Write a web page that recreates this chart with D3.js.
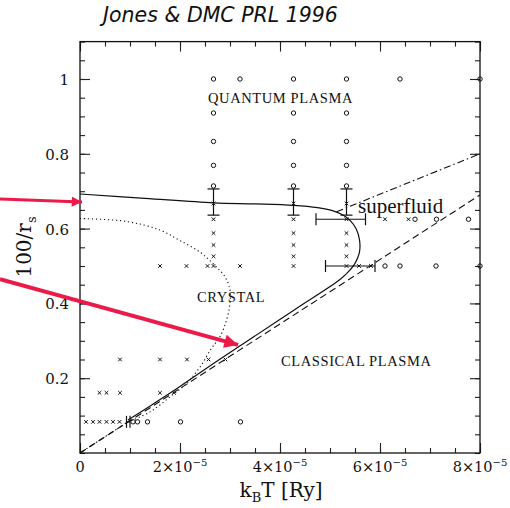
<!DOCTYPE html>
<html>
<head>
<meta charset="utf-8">
<script src="https://cdn.jsdelivr.net/npm/d3@7"></script>
<style>
  body { margin: 0; background: #fff; }
  text { fill: #111; }
</style>
</head>
<body>
<script>
const width = 510;
const height = 508;

// temperatures in Ry, density as 100/rs
const openPoints = [
  [2.67e-5, 1], [3.2e-5, 1], [4.27e-5, 1], [5.33e-5, 1], [6.4e-5, 1], [8.0e-5, 1],
  [2.67e-5, 0.909], [4.27e-5, 0.909], [5.33e-5, 0.909],
  [2.67e-5, 0.833], [4.27e-5, 0.833], [5.33e-5, 0.833],
  [2.67e-5, 0.769], [4.27e-5, 0.769], [5.33e-5, 0.769],
  [2.67e-5, 0.714], [4.27e-5, 0.714], [5.33e-5, 0.714],
  [6.7e-5, 0.625], [7.13e-5, 0.625], [7.77e-5, 0.625],
  [6.1e-5, 0.5], [6.4e-5, 0.5], [7.12e-5, 0.5], [8.0e-5, 0.5],
  [1.06e-5, 0.0833], [1.15e-5, 0.0833], [1.35e-5, 0.0833], [2.01e-5, 0.0833], [3.21e-5, 0.0833]
];

const crossPoints = [
  [2.67e-5, 0.667], [4.27e-5, 0.667], [5.33e-5, 0.667],
  [2.67e-5, 0.625], [4.27e-5, 0.625], [5.33e-5, 0.625], [6.1e-5, 0.625], [6.57e-5, 0.625],
  [2.67e-5, 0.588], [4.27e-5, 0.588], [5.33e-5, 0.588],
  [2.67e-5, 0.556], [4.27e-5, 0.556], [5.33e-5, 0.556],
  [2.67e-5, 0.526], [4.27e-5, 0.526], [5.33e-5, 0.526],
  [1.6e-5, 0.5], [2.13e-5, 0.5], [2.55e-5, 0.5], [2.67e-5, 0.5], [3.2e-5, 0.5],
  [4.27e-5, 0.5], [5.33e-5, 0.5], [5.58e-5, 0.5], [5.82e-5, 0.5],
  [0.8e-5, 0.25], [1.6e-5, 0.25], [2.14e-5, 0.25], [2.57e-5, 0.25], [2.91e-5, 0.25],
  [0.39e-5, 0.161], [0.53e-5, 0.161], [0.8e-5, 0.161], [1.6e-5, 0.161], [1.88e-5, 0.161],
  [0.12e-5, 0.0833], [0.26e-5, 0.0833], [0.39e-5, 0.0833], [0.53e-5, 0.0833], [0.66e-5, 0.0833], [0.79e-5, 0.0833]
];

const vErrors = [
  { x: 2.67e-5, lo: 0.636, hi: 0.706 },
  { x: 4.27e-5, lo: 0.636, hi: 0.706 },
  { x: 5.33e-5, lo: 0.636, hi: 0.706 }
];
const hErrors = [
  { y: 0.625, lo: 4.72e-5, hi: 5.71e-5 },
  { y: 0.5, lo: 4.91e-5, hi: 5.9e-5 },
  { y: 0.0833, lo: 0.93e-5, hi: 1.0e-5 }
];

const meltLine = [
  [0, 0.6925], [1.3e-5, 0.681], [2.67e-5, 0.669], [3.5e-5, 0.666], [4.27e-5, 0.662],
  [4.75e-5, 0.656], [5.05e-5, 0.648], [5.25e-5, 0.637], [5.4e-5, 0.622], [5.52e-5, 0.6],
  [5.59e-5, 0.57], [5.59e-5, 0.538], [5.5e-5, 0.507], [5.37e-5, 0.485], [5.2e-5, 0.464],
  [4.3e-5, 0.384], [3.4e-5, 0.304], [2.7e-5, 0.242], [2.0e-5, 0.178], [1.45e-5, 0.13],
  [0.96e-5, 0.088]
];
const crystalLine = [
  [0, 0.627], [0.93e-5, 0.619], [1.6e-5, 0.596], [2.0e-5, 0.568], [2.4e-5, 0.537],
  [2.67e-5, 0.505], [2.9e-5, 0.471], [3.0e-5, 0.436], [3.0e-5, 0.40], [2.93e-5, 0.355],
  [2.8e-5, 0.311], [2.63e-5, 0.28], [2.4e-5, 0.23], [2.13e-5, 0.186], [1.8e-5, 0.15],
  [1.4e-5, 0.11], [1.0e-5, 0.085]
];
const classicalLine = [[0, 0], [8.0e-5, 0.69]];
const superfluidLine = [[5.13e-5, 0.645], [8.0e-5, 0.80]];
const lowLine = [[0, 0], [1.0e-5, 0.087]];

const regionLabels = [
  { text: 'QUANTUM PLASMA', x: 2.56e-5, y: 0.936, size: 14.5 },
  { text: 'CRYSTAL', x: 2.34e-5, y: 0.404, size: 14.5 },
  { text: 'CLASSICAL PLASMA', x: 4.02e-5, y: 0.233, size: 14.5 },
  { text: 'superfluid', x: 5.56e-5, y: 0.642, size: 21 }
];

const arrows = [
  { from: [-1.6e-5, 0.679], to: [0.04e-5, 0.671], w: 3 },
  { from: [-1.6e-5, 0.465], to: [3.16e-5, 0.289], w: 4 }
];

const xMajor = [0, 2e-5, 4e-5, 6e-5, 8e-5];
const xMantissa = ['0', '2', '4', '6', '8'];
const yMajor = [0.2, 0.4, 0.6, 0.8, 1];
const yLabels = ['0.2', '0.4', '0.6', '0.8', '1'];

const x = d3.scaleLinear().domain([0, 8e-5]).range([80, 480]);
const y = d3.scaleLinear().domain([0, 1.1]).range([453, 41.6]);

const xMinor = d3.range(0, 8.01e-5, 0.5e-5);
const yMinor = d3.range(0, 1.101, 0.05);

const svg = d3.select('body')
  .append('svg')
  .attr('width', width)
  .attr('height', height);

svg.append('text')
  .attr('x', 103)
  .attr('y', 22)
  .style('font-family', 'DejaVu Sans')
  .style('font-style', 'italic')
  .style('font-size', '20.5px')
  .text('Jones & DMC PRL 1996');

// axes: inward ticks on all four sides
function drawTicks(axisFn, pos, values, size) {
  svg.append('g')
    .attr('transform', pos)
    .call(axisFn.tickValues(values).tickSize(-size).tickFormat(''))
    .call(g => g.select('.domain').remove())
    .call(g => g.selectAll('line').attr('stroke', '#222').attr('stroke-width', 1.1));
}
drawTicks(d3.axisBottom(x), 'translate(0,453)', xMinor, 5);
drawTicks(d3.axisBottom(x), 'translate(0,453)', xMajor, 10);
drawTicks(d3.axisTop(x), 'translate(0,41.6)', xMinor, 5);
drawTicks(d3.axisTop(x), 'translate(0,41.6)', xMajor, 10);
drawTicks(d3.axisLeft(y), 'translate(80,0)', yMinor, 5);
drawTicks(d3.axisLeft(y), 'translate(80,0)', yMajor, 10);
drawTicks(d3.axisRight(y), 'translate(480,0)', yMinor, 5);
drawTicks(d3.axisRight(y), 'translate(480,0)', yMajor, 10);

svg.append('rect')
  .attr('x', 80).attr('y', 41.6)
  .attr('width', 400).attr('height', 453 - 41.6)
  .attr('fill', 'none')
  .attr('stroke', '#111')
  .attr('stroke-width', 1.3);

// y tick labels
svg.append('g')
  .selectAll('text')
  .data(yMajor)
  .join('text')
  .attr('x', 69)
  .attr('y', d => y(d) + 6)
  .attr('text-anchor', 'end')
  .style('font-family', 'DejaVu Serif')
  .style('font-size', '15px')
  .text((d, i) => yLabels[i]);

// x tick labels with powers of ten
const xl = svg.append('g')
  .selectAll('text')
  .data(xMajor)
  .join('text')
  .attr('x', d => x(d))
  .attr('y', 472)
  .attr('text-anchor', 'middle')
  .style('font-family', 'DejaVu Serif')
  .style('font-size', '14.5px');
xl.each(function(d, i) {
  const t = d3.select(this);
  if (d === 0) { t.text('0'); return; }
  t.append('tspan').text(xMantissa[i] + '×10');
  t.append('tspan').attr('dy', -6).style('font-size', '10px').text('−5');
});

// axis titles
const xt = svg.append('text')
  .attr('x', 281)
  .attr('y', 497)
  .attr('text-anchor', 'middle')
  .style('font-family', 'DejaVu Serif')
  .style('font-size', '20px');
xt.append('tspan').text('k');
xt.append('tspan').attr('dy', 5).style('font-size', '13px').text('B');
xt.append('tspan').attr('dy', -5).text('T [Ry]');

const yt = svg.append('text')
  .attr('transform', 'translate(31,247) rotate(-90)')
  .attr('text-anchor', 'middle')
  .style('font-family', 'DejaVu Serif')
  .style('font-size', '20px');
yt.append('tspan').text('100/r');
yt.append('tspan').attr('dy', 5).style('font-size', '13px').text('s');

// phase lines
const line = d3.line().x(d => x(d[0])).y(d => y(d[1]));
const smooth = d3.line().x(d => x(d[0])).y(d => y(d[1])).curve(d3.curveCatmullRom.alpha(0.5));

const lines = svg.append('g').attr('fill', 'none').attr('stroke', '#111');
lines.append('path').attr('d', smooth(meltLine)).attr('stroke-width', 1.2);
lines.append('path').attr('d', smooth(crystalLine)).attr('stroke-width', 1.1)
  .attr('stroke-dasharray', '1.2,2.8');
lines.append('path').attr('d', line(classicalLine)).attr('stroke-width', 1.1)
  .attr('stroke-dasharray', '7,4');
lines.append('path').attr('d', line(superfluidLine)).attr('stroke-width', 1.1)
  .attr('stroke-dasharray', '7,3,1.5,3');
lines.append('path').attr('d', line(lowLine)).attr('stroke-width', 1.1)
  .attr('stroke-dasharray', '5,2.5,1.5,2.5');

// error bars
const eb = svg.append('g').attr('stroke', '#111').attr('stroke-width', 1.2);
vErrors.forEach(e => {
  eb.append('line').attr('x1', x(e.x)).attr('x2', x(e.x)).attr('y1', y(e.lo)).attr('y2', y(e.hi));
  [e.lo, e.hi].forEach(v => eb.append('line')
    .attr('x1', x(e.x) - 6).attr('x2', x(e.x) + 6).attr('y1', y(v)).attr('y2', y(v)));
});
hErrors.forEach(e => {
  eb.append('line').attr('x1', x(e.lo)).attr('x2', x(e.hi)).attr('y1', y(e.y)).attr('y2', y(e.y));
  [e.lo, e.hi].forEach(v => eb.append('line')
    .attr('x1', x(v)).attr('x2', x(v)).attr('y1', y(e.y) - 6).attr('y2', y(e.y) + 6));
});

// markers
svg.append('g')
  .selectAll('circle')
  .data(openPoints)
  .join('circle')
  .attr('cx', d => x(d[0]))
  .attr('cy', d => y(d[1]))
  .attr('r', 2.2)
  .attr('fill', 'none')
  .attr('stroke', '#111')
  .attr('stroke-width', 1);

const s = 1.8;
svg.append('g')
  .selectAll('path')
  .data(crossPoints)
  .join('path')
  .attr('d', d => {
    const cx = x(d[0]), cy = y(d[1]);
    return `M${cx - s},${cy - s}L${cx + s},${cy + s}M${cx - s},${cy + s}L${cx + s},${cy - s}`;
  })
  .attr('stroke', '#111')
  .attr('stroke-width', 1);

// region labels
svg.append('g')
  .selectAll('text')
  .data(regionLabels)
  .join('text')
  .attr('x', d => x(d.x))
  .attr('y', d => y(d.y))
  .style('font-family', 'Liberation Serif')
  .style('font-size', d => d.size + 'px')
  .style('letter-spacing', d => d.size < 20 ? '0.6px' : '0px')
  .text(d => d.text);

// red annotation arrows
const red = '#ec1a48';
svg.append('defs').append('marker')
  .attr('id', 'head')
  .attr('viewBox', '0 0 10 10')
  .attr('refX', 10).attr('refY', 5)
  .attr('markerWidth', 4).attr('markerHeight', 3.4)
  .attr('orient', 'auto')
  .append('path')
  .attr('d', 'M0,0L10,5L0,10Z')
  .attr('fill', red);

svg.append('g')
  .selectAll('line')
  .data(arrows)
  .join('line')
  .attr('x1', d => x(d.from[0]))
  .attr('y1', d => y(d.from[1]))
  .attr('x2', d => x(d.to[0]))
  .attr('y2', d => y(d.to[1]))
  .attr('stroke', red)
  .attr('stroke-width', d => d.w)
  .attr('marker-end', 'url(#head)');
</script>
</body>
</html>
